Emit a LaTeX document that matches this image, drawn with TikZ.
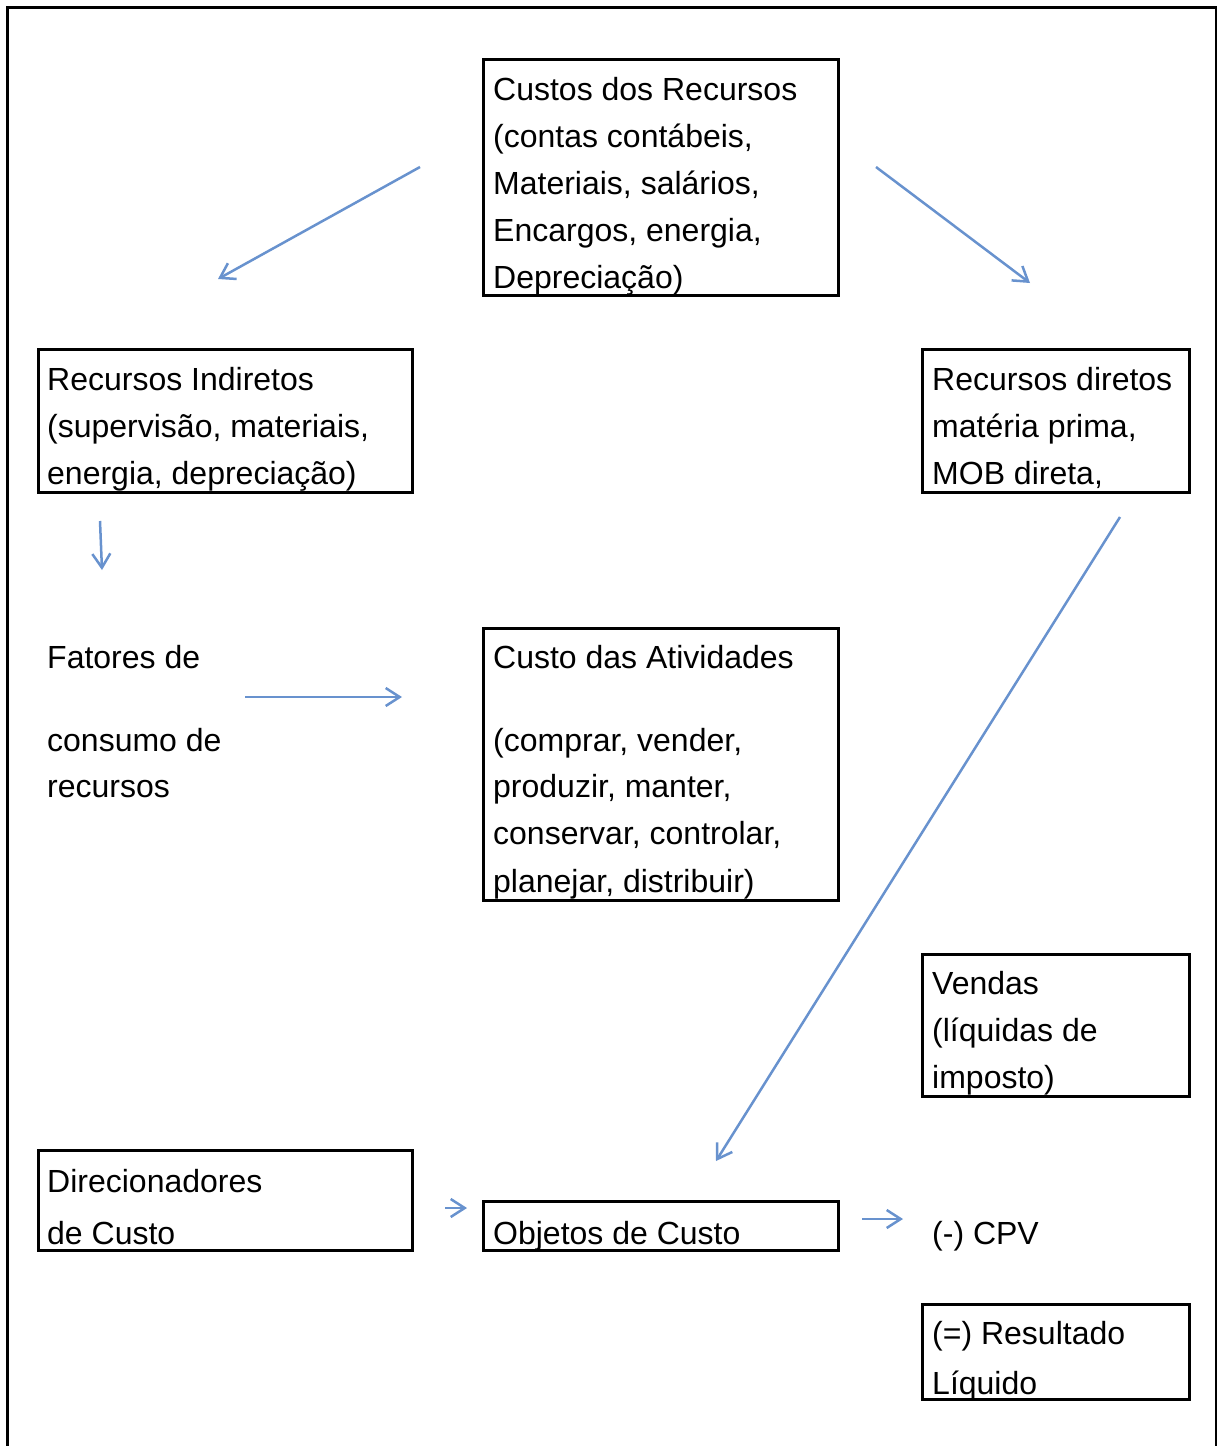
\documentclass[tikz,border=0pt]{standalone}
\usepackage{fontspec}
\setmainfont{Liberation Sans}
\usetikzlibrary{arrows.meta}
\definecolor{arrowblue}{RGB}{104,146,206}

\tikzset{
  box/.style={draw=black, line width=3pt, inner sep=0pt, rectangle},
  txt/.style={anchor=base west, inner sep=0pt, font=\fontsize{32}{47}\selectfont},
  flow/.style={draw=arrowblue, line width=2.5pt,
    -{Straight Barb[length=14pt,width=18pt,line width=2.5pt]}},
  frame/.style={draw=black}
}

\begin{document}
\begin{tikzpicture}[x=1pt,y=-1pt]
\useasboundingbox (0,0) rectangle (1219,1446);

% outer frame (open at the bottom)
\draw[frame, line width=3pt] (7.5,1446) -- (7.5,7) -- (1217,7);
\draw[frame, line width=2pt] (1216,7) -- (1216,1446);

% boxes
\node[box, minimum width=355, minimum height=236] (recursos) at (661,177.5) {};
\node[box, minimum width=374, minimum height=143] (indiretos) at (225.5,421) {};
\node[box, minimum width=267, minimum height=143] (diretos) at (1056,421) {};
\node[box, minimum width=355, minimum height=272] (atividades) at (661,764.5) {};
\node[box, minimum width=267, minimum height=142] (vendas) at (1056,1025.5) {};
\node[box, minimum width=374, minimum height=100] (direcionadores) at (225.5,1200.5) {};
\node[box, minimum width=355, minimum height=49] (objetos) at (661,1226) {};
\node[box, minimum width=267, minimum height=95] (resultado) at (1056,1352) {};

% texts
\node[txt] (recursos-1) at (493,100) {Custos dos Recursos};
\node[txt] (recursos-2) at (493,147) {(contas contábeis,};
\node[txt] (recursos-3) at (493,194) {Materiais, salários,};
\node[txt] (recursos-4) at (493,241) {Encargos, energia,};
\node[txt] (recursos-5) at (493,288) {Depreciação)};

\node[txt] (indiretos-1) at (47,390) {Recursos Indiretos};
\node[txt] (indiretos-2) at (47,437) {(supervisão, materiais,};
\node[txt] (indiretos-3) at (47,484) {energia, depreciação)};

\node[txt] (diretos-1) at (932,390) {Recursos diretos};
\node[txt] (diretos-2) at (932,437) {matéria prima,};
\node[txt] (diretos-3) at (932,484) {MOB direta,};

\node[txt] (fatores-1) at (47,668) {Fatores de};
\node[txt] (fatores-2) at (47,751) {consumo de};
\node[txt] (fatores-3) at (47,797) {recursos};

\node[txt] (atividades-1) at (493,668) {Custo das Atividades};
\node[txt] (atividades-2) at (493,751) {(comprar, vender,};
\node[txt] (atividades-3) at (493,797) {produzir, manter,};
\node[txt] (atividades-4) at (493,844) {conservar, controlar,};
\node[txt] (atividades-5) at (493,892) {planejar, distribuir)};

\node[txt] (vendas-1) at (932,994) {Vendas};
\node[txt] (vendas-2) at (932,1041) {(líquidas de};
\node[txt] (vendas-3) at (932,1088) {imposto)};

\node[txt] (direcionadores-1) at (47,1192) {Direcionadores};
\node[txt] (direcionadores-2) at (47,1244) {de Custo};

\node[txt] (objetos-1) at (493,1244) {Objetos de Custo};

\node[txt] (cpv) at (932,1244) {(-) CPV};

\node[txt] (resultado-1) at (932,1344) {(=) Resultado};
\node[txt] (resultado-2) at (932,1394) {Líquido};

% arrow end points
\coordinate (a1s) at (420,167);  \coordinate (a1e) at (218,279);
\coordinate (a2s) at (876,167);  \coordinate (a2e) at (1030,283);
\coordinate (a3s) at (100,521);  \coordinate (a3e) at (102,570);
\coordinate (a4s) at (245,697);  \coordinate (a4e) at (402,697);
\coordinate (a5s) at (445,1208); \coordinate (a5e) at (467,1208);
\coordinate (a6s) at (862,1219); \coordinate (a6e) at (903,1219);
\coordinate (a7s) at (1120,517); \coordinate (a7e) at (716,1161);

% arrows
\draw[flow] (a1s) -- (a1e);
\draw[flow] (a2s) -- (a2e);
\draw[flow] (a3s) -- (a3e);
\draw[flow] (a4s) -- (a4e);
\draw[flow] (a5s) -- (a5e);
\draw[flow] (a6s) -- (a6e);
\draw[flow] (a7s) -- (a7e);
\end{tikzpicture}
\end{document}
